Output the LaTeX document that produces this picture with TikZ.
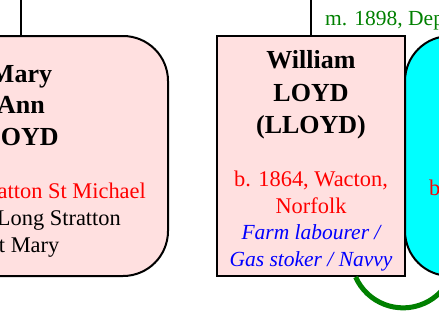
\documentclass[tikz,border=0pt]{standalone}
\usepackage{fontspec}
\setmainfont{Liberation Serif}
\usetikzlibrary{calc}
\definecolor{boxpink}{RGB}{255,224,224}
\definecolor{boxcyan}{RGB}{0,255,255}
\definecolor{txtred}{RGB}{255,0,0}
\definecolor{txtblue}{RGB}{0,0,255}
\definecolor{txtgreen}{RGB}{0,128,0}
\tikzset{
  personbox/.style={draw=black, line width=2pt, minimum width=#1, minimum height=240pt, inner sep=0pt},
  namet/.style={inner sep=0pt, font=\fontsize{26}{30}\selectfont\bfseries, text=black},
  detail/.style={inner sep=0pt, font=\fontsize{22.4}{26}\selectfont},
  redt/.style={detail, text=txtred},
  blackt/.style={detail, text=black},
  bluet/.style={detail, text=txtblue, font=\fontsize{21.5}{26}\selectfont\itshape},
  greent/.style={detail, text=txtgreen, font=\fontsize{21.5}{25}\selectfont},
  link/.style={draw=black, line width=1.5pt},
  marriage/.style={draw=txtgreen, line width=5pt}
}
\begin{document}
\begin{tikzpicture}[x=1pt,y=1pt]
\clip (0,0) rectangle (439,-327);
% boxes
\node[personbox=294pt, fill=boxpink, rounded corners=45pt] (mary) at (21,-156) {};
\node[personbox=188pt, fill=boxpink] (will) at (311,-156) {};
\node[personbox=188pt, fill=boxcyan, rounded corners=45pt] (wife) at (499,-156) {};
% connectors
\coordinate (mtop) at (21,0);
\coordinate (wtop) at (311,0);
\draw[link] (mtop) -- (mary.north);
\draw[link] (wtop) -- (will.north);
\coordinate (arcstart) at ($(will.south)+(44.6,0)$);
\draw[marriage] (arcstart) arc[start angle=204, end angle=336, radius=52];
% marriage label
\node[greent, anchor=base west] (mlabel) at (325,-25) {m. 1898, Dep};
% Mary Ann LOYD texts
\node[namet, anchor=base] (m1) at (21,-82) {Mary};
\node[namet, anchor=base] (m2) at (21,-113) {Ann};
\node[namet, anchor=base] (m3) at (21,-145) {LOYD};
\node[redt, anchor=base east] (m4) at (146,-198) {atton St Michael};
\node[blackt, anchor=base east] (m5) at (121,-225) {Long Stratton};
\node[blackt, anchor=base east] (m6) at (59.5,-252) {St Mary};
% William texts
\node[namet, anchor=base] (w1) at (311,-68) {William};
\node[namet, anchor=base] (w2) at (311,-101) {LOYD};
\node[namet, anchor=base] (w3) at (311,-133) {(LLOYD)};
\node[redt, anchor=base] (w4) at (311,-186.5) {b. 1864, Wacton,};
\node[redt, anchor=base] (w5) at (311,-213) {Norfolk};
\node[bluet, anchor=base] (w6) at (311,-239.5) {Farm labourer /};
\node[bluet, anchor=base] (w7) at (311,-266) {Gas stoker / Navvy};
% wife text
\node[redt, anchor=base west] (c1) at (429,-195) {b};
\end{tikzpicture}
\end{document}
